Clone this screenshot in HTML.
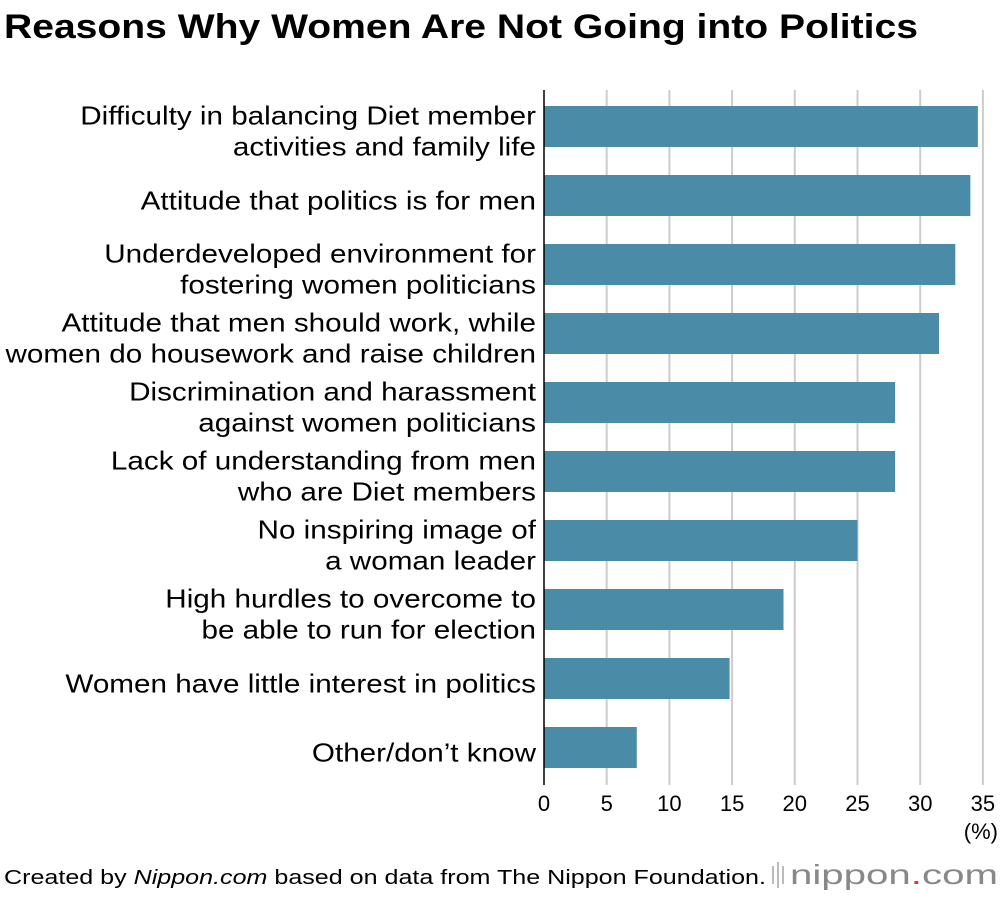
<!DOCTYPE html>
<html><head><meta charset="utf-8"><style>
body{margin:0;background:#fff;width:1000px;height:896px;overflow:hidden;font-family:"Liberation Sans",sans-serif;}
</style></head><body>
<svg width="1000" height="896" xmlns="http://www.w3.org/2000/svg">
<text x="4" y="38" font-size="34" font-weight="bold" fill="#000" textLength="914" lengthAdjust="spacingAndGlyphs">Reasons Why Women Are Not Going into Politics</text>
<g id="grid"></g><g id="bars"></g><g id="labels"></g><g id="ticks"></g>
<line x1="544" y1="90" x2="544" y2="785" stroke="#000" stroke-width="1.5"/>
<text x="998" y="839" font-size="22" text-anchor="end">(%)</text>
<text x="4" y="884" font-size="20" textLength="762" lengthAdjust="spacingAndGlyphs">Created by <tspan font-style="italic">Nippon.com</tspan> based on data from The Nippon Foundation.</text>
<g>
<rect x="772" y="866" width="2" height="18" fill="#bbb"/><rect x="777" y="862" width="2" height="26" fill="#bbb"/><rect x="782" y="866" width="2" height="18" fill="#bbb"/>
<text x="790" y="884" font-size="28" fill="#888" textLength="208" lengthAdjust="spacingAndGlyphs">nippon<tspan fill="#d33">.</tspan>com</text>
</g>
</svg>
<script>
const categories=[["Difficulty in balancing Diet member","activities and family life"],["Attitude that politics is for men"],["Underdeveloped environment for","fostering women politicians"],["Attitude that men should work, while","women do housework and raise children"],["Discrimination and harassment","against women politicians"],["Lack of understanding from men","who are Diet members"],["No inspiring image of","a woman leader"],["High hurdles to overcome to","be able to run for election"],["Women have little interest in politics"],["Other/don\u2019t know"]];
const values=[34.6,34.0,32.8,31.5,28.0,28.0,25.0,19.1,14.8,7.4];
const tickLabels=[0,5,10,15,20,25,30,35];
const NS="http://www.w3.org/2000/svg";
const x=v=>544+v*12.54;
const y=i=>106+i*69;
function mk(t,a,p){const e=document.createElementNS(NS,t);for(const k in a)e.setAttribute(k,a[k]);p.appendChild(e);return e;}
const G=document.getElementById('grid'),B=document.getElementById('bars'),L=document.getElementById('labels'),T=document.getElementById('ticks');
tickLabels.forEach(t=>{
 if(t>0){const g=mk('line',{x1:x(t),x2:x(t),y1:90,y2:785,stroke:'#ccc','stroke-width':2},G);
 
 }
 const tl=mk('text',{x:x(t),y:811,'font-size':22,'text-anchor':'middle'},T);tl.textContent=t;
 
 
});
values.forEach((v,i)=>{
 const r=mk('rect',{x:544,y:y(i),width:x(v)-544,height:41,fill:'#4a8ca8'},B);
 
 
 const lines=categories[i];const cy=y(i)+20.5;
 lines.forEach((s,j)=>{
  const off=lines.length===1?14:(j===0?-2:29);
  const t=mk('text',{x:536,y:cy+off,'font-size':26,'text-anchor':'end'},L);t.textContent=s;
  
  
  const len=t.getComputedTextLength();
  t.setAttribute('textLength',len*1.14);
  t.setAttribute('lengthAdjust','spacingAndGlyphs');
 });
});
</script>
</body></html>
